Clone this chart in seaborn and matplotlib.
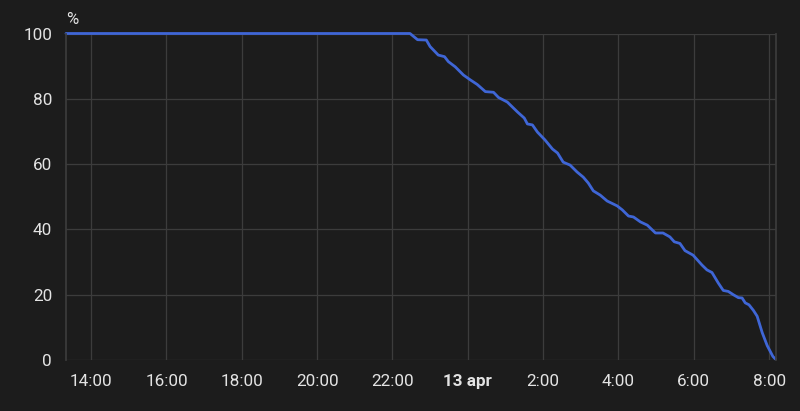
import pandas as pd
import seaborn as sns
import matplotlib.pyplot as plt
import matplotlib.dates as mdates

# battery level readings (time, %)
times = [
    "2024-04-12 13:20", "2024-04-12 22:28", "2024-04-12 22:40", "2024-04-12 22:54",
    "2024-04-12 23:00", "2024-04-12 23:13", "2024-04-12 23:23", "2024-04-12 23:29",
    "2024-04-12 23:40", "2024-04-12 23:53", "2024-04-13 00:04", "2024-04-13 00:15",
    "2024-04-13 00:28", "2024-04-13 00:41", "2024-04-13 00:49", "2024-04-13 01:03",
    "2024-04-13 01:19", "2024-04-13 01:30", "2024-04-13 01:35", "2024-04-13 01:43",
    "2024-04-13 01:51", "2024-04-13 02:03", "2024-04-13 02:15", "2024-04-13 02:23",
    "2024-04-13 02:32", "2024-04-13 02:43", "2024-04-13 02:54", "2024-04-13 03:04",
    "2024-04-13 03:12", "2024-04-13 03:20", "2024-04-13 03:31", "2024-04-13 03:42",
    "2024-04-13 03:58", "2024-04-13 04:06", "2024-04-13 04:16", "2024-04-13 04:24",
    "2024-04-13 04:35", "2024-04-13 04:46", "2024-04-13 04:59", "2024-04-13 05:11",
    "2024-04-13 05:22", "2024-04-13 05:29", "2024-04-13 05:38", "2024-04-13 05:46",
    "2024-04-13 05:59", "2024-04-13 06:13", "2024-04-13 06:21", "2024-04-13 06:29",
    "2024-04-13 06:39", "2024-04-13 06:47", "2024-04-13 06:55", "2024-04-13 07:03",
    "2024-04-13 07:11", "2024-04-13 07:17", "2024-04-13 07:22", "2024-04-13 07:28",
    "2024-04-13 07:35", "2024-04-13 07:41", "2024-04-13 07:49", "2024-04-13 07:57",
    "2024-04-13 08:06", "2024-04-13 08:10",
]
level = [
    100, 100, 98.1, 98, 96, 93.4, 92.9, 91.4,
    89.8, 87.3, 85.8, 84.4, 82.2, 82, 80.4, 79,
    76, 74.1, 72.3, 72, 69.8, 67.4, 64.6, 63.4,
    60.6, 59.7, 57.6, 56, 54.2, 51.8, 50.5, 48.7,
    47.2, 46, 44.1, 43.8, 42.3, 41.3, 38.9, 38.9,
    37.7, 36.2, 35.7, 33.5, 32.1, 29.1, 27.6, 26.8,
    23.6, 21.3, 21, 20, 19.1, 19, 17.5, 16.9,
    15.2, 13.4, 8.4, 4.4, 1.1, 0.3,
]
y_ticks = [0, 20, 40, 60, 80, 100]

df = pd.DataFrame({"time": pd.to_datetime(times), "level": level})

bg = "#1c1c1c"
grid = "#3c3c3c"
text = "#e3e3e3"

sns.set_theme(style="dark", rc={
    "figure.facecolor": bg, "axes.facecolor": bg,
    "axes.edgecolor": grid, "grid.color": grid,
    "text.color": text, "xtick.color": text, "ytick.color": text,
})
plt.rcParams["font.family"] = ["Roboto", "DejaVu Sans"]

fig = plt.figure(figsize=(8, 4.11), dpi=100)
ax = fig.add_axes([66 / 800, 1 - 360 / 411, 710 / 800, 326.5 / 411])

sns.lineplot(data=df, x="time", y="level", ax=ax, color="#3f66d6", linewidth=2.0)
for ln in ax.lines:
    ln.set_clip_on(False)

ax.set_xlim(pd.Timestamp("2024-04-12 13:20"), pd.Timestamp("2024-04-13 08:11"))
ax.set_ylim(0, 100)
ax.set_yticks(y_ticks)
ax.xaxis.set_major_locator(mdates.HourLocator(byhour=range(0, 24, 2)))


def fmt(x, pos):
    d = mdates.num2date(x)
    if d.hour == 0:
        return "13 apr"
    return f"{d.hour}:00"


ax.xaxis.set_major_formatter(plt.FuncFormatter(fmt))

ax.grid(True, color=grid, linewidth=0.9)
ax.tick_params(axis="both", length=6, width=0.9, color=grid, labelsize=12.3, pad=4)
ax.set_xlabel("")
ax.set_ylabel("")
for side in ["left", "right"]:
    ax.spines[side].set_visible(True)
    ax.spines[side].set_color(grid)
for side in ["top", "bottom"]:
    ax.spines[side].set_visible(False)

fig.canvas.draw()
for lab in ax.get_xticklabels():
    if lab.get_text() == "13 apr":
        lab.set_fontweight("bold")

fig.text(66 / 800, 1 - 20 / 411, "%", ha="left", va="center", fontsize=12, color=text)

fig.savefig("out.png", dpi=100, facecolor=bg)
